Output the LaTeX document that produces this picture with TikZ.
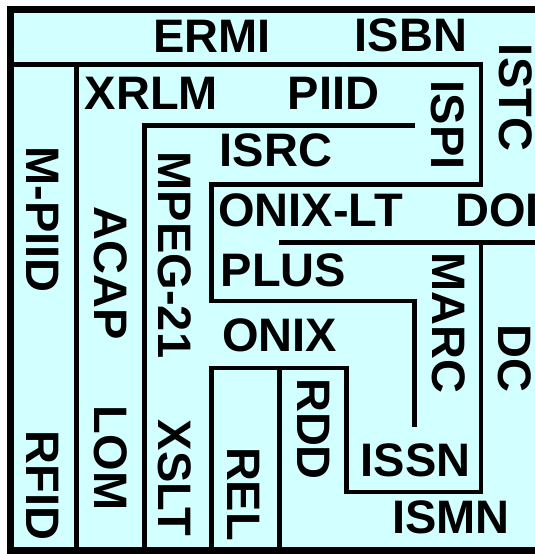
\documentclass[tikz,border=0pt]{standalone}
\usepackage{fontspec}
\setmainfont{Liberation Sans}
\usetikzlibrary{positioning}
\definecolor{paleCyan}{RGB}{210,255,255}

\begin{document}
\begin{tikzpicture}[x=1pt, y=-1pt,
    lbl/.style={inner sep=0pt, font=\fontsize{47}{50}\selectfont\bfseries},
    vlbl/.style={lbl, rotate=-90},
    wall/.style={line width=4.5pt},
    frame/.style={line width=7pt, fill=paleCyan}
  ]
    \useasboundingbox (0,0) rectangle (535,554);
    \clip (0,0) rectangle (535,554);
    \draw[frame] (10,9.5) rectangle (560,550);

    % partition lines
    \draw[wall] (10,64.5) -- (481,64.5) -- (481,184.5) -- (211.5,184.5) -- (211.5,301) -- (414.5,301) -- (414.5,427);
    \draw[wall] (76.5,64.5) -- (76.5,550);
    \draw[wall] (415,125.5) -- (144.5,125.5) -- (144.5,550);
    \draw[wall] (279,242.5) -- (560,242.5);
    \draw[wall] (481,242.5) -- (481,492) -- (346.5,492) -- (346.5,368) -- (211.5,368) -- (211.5,550);
    \draw[wall] (279.5,368) -- (279.5,550);

    \node[lbl] (ermi) at (212,36.5) {ERMI};
    \node[lbl] (isbn) at (411,35) {ISBN};
    \node[vlbl] (istc) at (516,97.5) {ISTC};
    \node[lbl] (xrlm) at (151.5,93.5) {XRLM};
    \node[lbl] (piid) at (333.5,93.5) {PIID};
    \node[vlbl] (ispi) at (447.5,125) {ISPI};
    \node[vlbl] (mpiid) at (42.5,219.5) {M-PIID};
    \node[vlbl] (rfid) at (43,485.5) {RFID};
    \node[vlbl] (acap) at (111,273.5) {ACAP};
    \node[vlbl] (lom) at (111,458) {LOM};
    \node[vlbl] (mpeg) at (175,255) {MPEG-21};
    \node[vlbl] (xslt) at (175,478) {XSLT};
    \node[lbl] (isrc) at (276,150) {ISRC};
    \node[lbl] (onixlt) at (310.5,210.5) {ONIX-LT};
    \node[lbl, anchor=west] (doi) at (455,210.5) {DOI};
    \node[lbl] (plus) at (283.5,270) {PLUS};
    \node[vlbl] (marc) at (448.5,322.5) {MARC};
    \node[vlbl] (dc) at (515,358.5) {DC};
    \node[lbl] (onix) at (279.5,335.5) {ONIX};
    \node[vlbl] (rdd) at (313.5,429) {RDD};
    \node[vlbl] (rel) at (243.5,494) {REL};
    \node[lbl] (issn) at (415.5,460) {ISSN};
    \node[lbl] (ismn) at (451,517.5) {ISMN};
  \end{tikzpicture}
\end{document}
